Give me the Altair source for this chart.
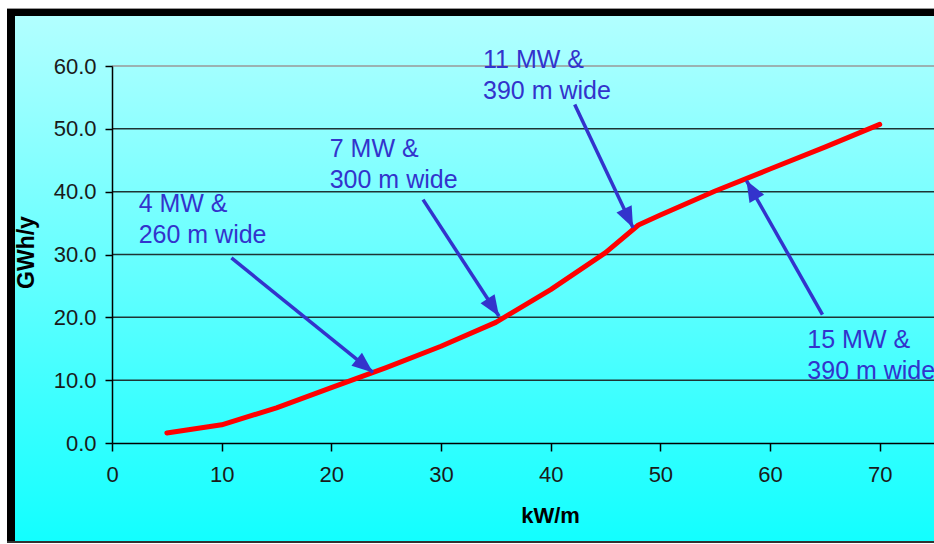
import math
import altair as alt
import pandas as pd

# ---- data ----
kw = [5, 10, 15, 20, 25, 30, 35, 40, 45, 48, 50, 55, 60, 65, 70]
gwh = [1.6, 2.9, 5.6, 8.8, 12.0, 15.4, 19.2, 24.4, 30.3, 34.7, 36.3, 40.1, 43.6, 47.1, 50.7]

label_text = ["4 MW &\n260 m wide", "7 MW &\n300 m wide", "11 MW &\n390 m wide", "15 MW &\n390 m wide"]
label_x = [2.43, 19.85, 33.83, 63.4]
label_y = [36.8, 45.5, 59.7, 15.1]

arrow_x0 = [10.89, 28.36, 42.19, 64.78]
arrow_y0 = [29.46, 38.74, 53.87, 20.43]
arrow_x1 = [23.8, 35.29, 47.51, 57.85]
arrow_y1 = [11.24, 20.16, 34.24, 41.77]

x_ticks = [0, 10, 20, 30, 40, 50, 60, 70]
y_ticks = [0, 10, 20, 30, 40, 50, 60]
grid_dark = [10, 20, 30, 40, 50]
grid_top = [60]

# ---- layout ----
W, H = 822, 377
PAD_L, PAD_T = 112, 66
X_MAX, Y_MAX = 74.95, 60
SX, SY = W / X_MAX, H / Y_MAX
FONT = "Liberation Sans"
BLUE = "#3333CC"

line_df = pd.DataFrame({"kw": kw, "gwh": gwh})
lab_df = pd.DataFrame({"t": label_text, "x": label_x, "y": label_y})
angles = []
for a, b, c, d in zip(arrow_x0, arrow_y0, arrow_x1, arrow_y1):
    dx = (c - a) * SX
    dy = -(d - b) * SY
    angles.append(math.degrees(math.atan2(dx, -dy)) % 360)
arr_df = pd.DataFrame({"x0": arrow_x0, "y0": arrow_y0, "x1": arrow_x1, "y1": arrow_y1, "ang": angles})
one = pd.DataFrame({"a": [0]})

xs = alt.Scale(domain=[0, X_MAX], nice=False, zero=False)
ys = alt.Scale(domain=[0, Y_MAX], nice=False)

bg = alt.Chart(one).mark_rect(
    fill=alt.Gradient(gradient="linear",
                      stops=[alt.GradientStop(color="#b2ffff", offset=0),
                             alt.GradientStop(color="#12ffff", offset=1)],
                      x1=0, y1=0, x2=0, y2=1),
    stroke=None
).encode(x=alt.value(15 - PAD_L), x2=alt.value(W + 5), y=alt.value(16 - PAD_T), y2=alt.value(541 - PAD_T))

border_top = alt.Chart(one).mark_rect(color="black").encode(
    x=alt.value(7 - PAD_L), x2=alt.value(W + 5), y=alt.value(9 - PAD_T), y2=alt.value(16 - PAD_T))
border_left = alt.Chart(one).mark_rect(color="black").encode(
    x=alt.value(7 - PAD_L), x2=alt.value(15 - PAD_L), y=alt.value(9 - PAD_T), y2=alt.value(542 - PAD_T))
border_bot = alt.Chart(one).mark_rect(color="#333333").encode(
    x=alt.value(7 - PAD_L), x2=alt.value(W + 5), y=alt.value(541 - PAD_T), y2=alt.value(543 - PAD_T))
border_top_gray = alt.Chart(one).mark_rect(color="#999999").encode(
    x=alt.value(7 - PAD_L), x2=alt.value(W + 5), y=alt.value(8 - PAD_T), y2=alt.value(9 - PAD_T))

grid1 = alt.Chart(pd.DataFrame({"g": grid_dark})).mark_rule(color="#1e3434", strokeWidth=1.5).encode(
    y=alt.Y("g:Q", scale=ys), x=alt.value(0), x2=alt.value(W))
grid2 = alt.Chart(pd.DataFrame({"g": grid_top})).mark_rule(color="#999999", strokeWidth=1.5).encode(
    y=alt.Y("g:Q", scale=ys), x=alt.value(0), x2=alt.value(W))

line = alt.Chart(line_df).mark_line(color="#ff0000", strokeWidth=5, strokeCap="round", strokeJoin="round").encode(
    x=alt.X("kw:Q", scale=xs,
            axis=alt.Axis(values=x_ticks, format="d", grid=False, zindex=1,
                          labelFontSize=22, labelColor="#1a1a1a", labelFont=FONT,
                          tickSize=8, tickColor="black", tickWidth=1.5,
                          domainColor="black", domainWidth=1.5, labelPadding=13,
                          title="kW/m", titleFont=FONT, titleFontSize=22, titleFontWeight="bold",
                          titleColor="black", titleX=438, titleY=79, titleBaseline="alphabetic",
                          titleAlign="center", labelFlush=False)),
    y=alt.Y("gwh:Q", scale=ys,
            axis=alt.Axis(values=y_ticks, format=".1f", grid=False, zindex=1,
                          labelFontSize=22, labelColor="#1a1a1a", labelFont=FONT,
                          tickSize=7, tickColor="black", tickWidth=1.5,
                          domainColor="black", domainWidth=1.5, labelPadding=9,
                          title="GWh/y", titleFont=FONT, titleFontSize=23, titleFontWeight="bold",
                          titleColor="black", titleAngle=270, titleX=-79, titleY=186,
                          titleBaseline="alphabetic", titleAlign="center", labelFlush=False)),
)

shafts = alt.Chart(arr_df).mark_rule(color=BLUE, strokeWidth=3.5, strokeCap="butt").encode(
    x=alt.X("x0:Q", scale=xs), y=alt.Y("y0:Q", scale=ys),
    x2="x1:Q", y2="y1:Q")

heads = alt.Chart(arr_df).mark_point(
    shape="M0,0 L-0.8,2 L0.8,2 Z", filled=True, fill=BLUE, color=BLUE, opacity=1, size=441, strokeWidth=0
).encode(x=alt.X("x1:Q", scale=xs), y=alt.Y("y1:Q", scale=ys), angle=alt.Angle("ang:Q", scale=None))

labels = alt.Chart(lab_df).mark_text(
    align="left", baseline="alphabetic", font=FONT, fontSize=25, color=BLUE,
    lineBreak="\n", lineHeight=31
).encode(x=alt.X("x:Q", scale=xs), y=alt.Y("y:Q", scale=ys), text="t:N")

chart = alt.layer(
    bg, border_top_gray, border_top, border_left, border_bot, grid1, grid2, line, shafts, heads, labels
).properties(
    width=W, height=H,
    autosize=alt.AutoSizeParams(type="none"),
    padding={"left": PAD_L, "top": PAD_T, "right": 0, "bottom": 544 - PAD_T - H},
    background="white",
).configure_view(stroke=None)

chart.save("out.html", embed_options={"renderer": "svg", "actions": False})
